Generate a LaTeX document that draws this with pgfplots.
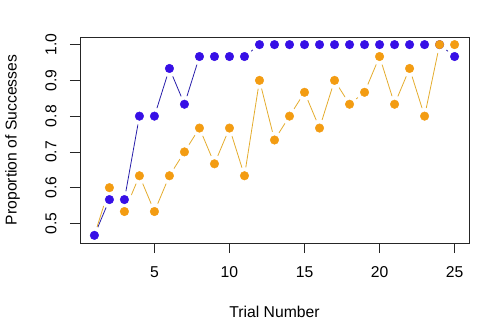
\documentclass[border=0pt]{standalone}
\usepackage{fontspec}
\setmainfont{Liberation Sans}
\usepackage{pgfplots}
\pgfplotsset{compat=1.18}
\definecolor{bluept}{RGB}{55,15,230}
\definecolor{blueln}{RGB}{40,30,170}
\definecolor{orangept}{RGB}{243,156,18}
\definecolor{orangeln}{RGB}{228,172,45}
\pgfplotstableread{
x blue orange
1 0.4667 0.4667
2 0.5667 0.6
3 0.5667 0.5333
4 0.8 0.6333
5 0.8 0.5333
6 0.9333 0.6333
7 0.8333 0.7
8 0.9667 0.7667
9 0.9667 0.6667
10 0.9667 0.7667
11 0.9667 0.6333
12 1.0 0.9
13 1.0 0.7333
14 1.0 0.8
15 1.0 0.8667
16 1.0 0.7667
17 1.0 0.9
18 1.0 0.8333
19 1.0 0.8667
20 1.0 0.9667
21 1.0 0.8333
22 1.0 0.9333
23 1.0 0.8
24 1.0 1.0
25 0.9667 1.0
}\data
\begin{document}
\fontsize{15.7bp}{19bp}\selectfont
\begin{tikzpicture}
\begin{axis}[
  set layers, axis on top,
  at={(0,0)}, anchor=south west,
  scale only axis, width=389bp, height=206bp,
  xmin=0.04, xmax=25.96, ymin=0.4453, ymax=1.0213,
  xtick={5,10,15,20,25},
  ytick={0.5,0.6,0.7,0.8,0.9,1.0},
  yticklabels={0.5,0.6,0.7,0.8,0.9,1.0},
  xtick pos=bottom, ytick pos=left,
  tick align=outside, major tick length=10bp,
  axis line style={line width=0.8bp, black!85},
  every tick/.style={line width=0.8bp, black!85},
  /pgf/number format/assume math mode=true,
  yticklabel style={rotate=90, anchor=south},
  yticklabel shift=8bp, xticklabel shift=8bp,
  xlabel={Trial Number}, ylabel={Proportion of Successes},
  every axis x label/.style={at={(axis description cs:0.5,-0.335)}, anchor=center},
  every axis y label/.style={at={(axis description cs:-0.1735,0.5)}, rotate=90, anchor=center},
  clip=false,
]
\addplot[blueln, line width=0.8bp, no markers] table[x=x, y=blue] {\data};
\addplot[white, only marks, mark=*, mark size=8.3bp] table[x=x, y=blue] {\data};
\addplot[orangeln, line width=0.8bp, no markers] table[x=x, y=orange] {\data};
\addplot[white, only marks, mark=*, mark size=8.3bp] table[x=x, y=orange] {\data};
\addplot[bluept, only marks, mark=*, mark size=4.3bp] table[x=x, y=blue] {\data};
\addplot[orangept, only marks, mark=*, mark size=4.3bp] table[x=x, y=orange, skip coords between index={0}{1}] {\data};
\end{axis}
\pgfresetboundingbox
\path[use as bounding box] (-80bp,-91bp) rectangle (414bp,243bp);
\end{tikzpicture}
\end{document}
